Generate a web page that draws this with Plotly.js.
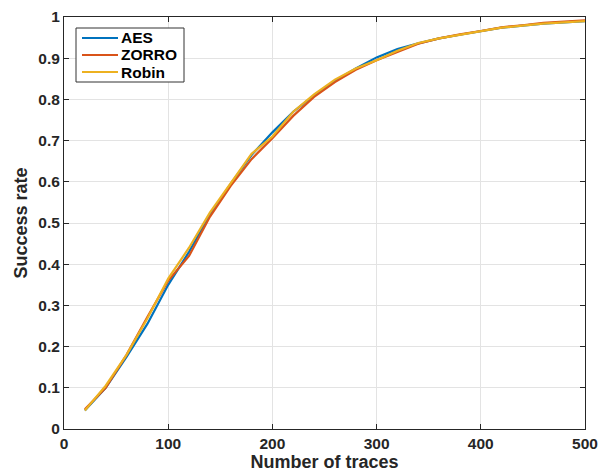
<!DOCTYPE html>
<html>
<head>
<meta charset="utf-8">
<script src="https://cdn.plot.ly/plotly-3.0.1.min.js"></script>
<style>html,body{margin:0;padding:0;background:#fff;}#chart{width:600px;height:473px;}</style>
</head>
<body>
<div id="chart"></div>
<script>
const traces = [20,40,60,80,100,120,140,160,180,200,220,240,260,280,300,320,340,360,380,400,420,440,460,480,500];
const aes   = [0.045,0.100,0.175,0.255,0.350,0.430,0.520,0.595,0.665,0.720,0.770,0.810,0.845,0.875,0.902,0.922,0.936,0.948,0.957,0.966,0.974,0.979,0.984,0.987,0.990];
const zorro = [0.048,0.100,0.180,0.272,0.360,0.420,0.515,0.590,0.655,0.706,0.760,0.806,0.842,0.872,0.895,0.915,0.935,0.948,0.958,0.966,0.975,0.980,0.986,0.989,0.992];
const robin = [0.045,0.105,0.180,0.268,0.365,0.440,0.525,0.597,0.668,0.710,0.770,0.812,0.848,0.875,0.895,0.918,0.937,0.948,0.957,0.966,0.974,0.979,0.984,0.987,0.990];
const names = ['AES','ZORRO','Robin'];
const colors = ['#0072BD','#D95319','#EDB120'];
const series = [aes, zorro, robin];

const data = series.map((s,i)=>({
  x: traces, y: s, type:'scatter', mode:'lines', name: names[i],
  line:{color: colors[i], width:2.2}, showlegend:false
}));

const fontFam = '"Liberation Sans", Arial, Helvetica, sans-serif';

// Legend box (paper coordinates)
const W = 521, H = 412; // plot area size in px
const px = v => (v - 64) / W;
const py = v => (429 - v) / H;
const shapes = [{
  type:'rect', xref:'paper', yref:'paper',
  x0:px(76), x1:px(184), y0:py(82), y1:py(28),
  line:{color:'#333', width:1}, fillcolor:'#fff', layer:'above'
}];
const annotations = [];
const rowY = [38, 55, 72];
names.forEach((n,i)=>{
  shapes.push({type:'line', xref:'paper', yref:'paper', x0:px(82), x1:px(118), y0:py(rowY[i]), y1:py(rowY[i]),
    line:{color:colors[i], width:2.2}, layer:'above'});
  annotations.push({xref:'paper', yref:'paper', x:px(120), y:py(rowY[i]), xanchor:'left', yanchor:'middle',
    text:n, showarrow:false, borderpad:0, valign:'middle',
    font:{family:fontFam, size:15.5, color:'#000', weight:'bold'}});
});

const axisCommon = {
  showline:true, mirror:'ticks', linecolor:'#262626', linewidth:1,
  ticks:'inside', ticklen:5, tickcolor:'#262626', tickwidth:1,
  showgrid:true, gridcolor:'#e3e3e3', gridwidth:1, zeroline:false,
  tickfont:{family:fontFam, size:15.5, color:'#262626', weight:'bold'}
};
const layout = {
  width:600, height:473,
  margin:{l:64, r:15, t:17, b:44},
  paper_bgcolor:'#fff', plot_bgcolor:'#fff',
  font:{family:fontFam, color:'#262626'},
  xaxis: Object.assign({}, axisCommon, {
    range:[0,500], tickvals:[0,100,200,300,400,500],
    title:{text:'Number of traces', font:{family:fontFam, size:18, color:'#262626', weight:'bold'}, standoff:0}
  }),
  yaxis: Object.assign({}, axisCommon, {
    range:[0,1], dtick:0.1, tick0:0,
    title:{text:'Success rate', font:{family:fontFam, size:18, color:'#262626', weight:'bold'}, standoff:6}
  }),
  shapes: shapes,
  annotations: annotations,
  showlegend:false
};
Plotly.newPlot('chart', data, layout, {staticPlot:true, displayModeBar:false});
</script>
</body>
</html>
